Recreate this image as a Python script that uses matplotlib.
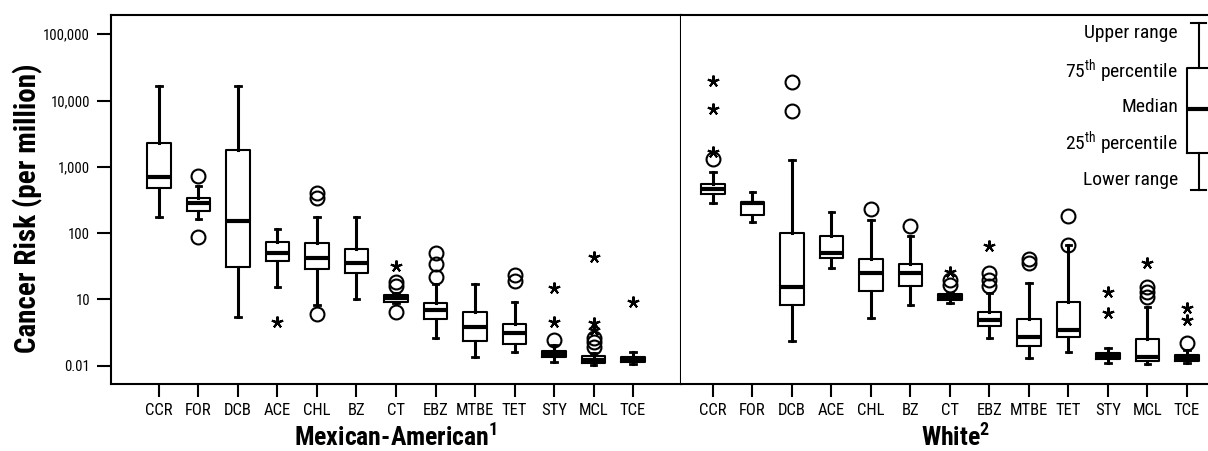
import matplotlib
matplotlib.use('Agg')
import matplotlib.pyplot as plt
from matplotlib.ticker import NullLocator

# Узкий шрифт вместо Arial Narrow
FONT = 'Roboto Condensed'
plt.rcParams['font.family'] = [FONT, 'Liberation Sans', 'DejaVu Sans']
plt.rcParams['mathtext.fontset'] = 'custom'
plt.rcParams['mathtext.rm'] = FONT
plt.rcParams['mathtext.bf'] = FONT + ':bold'

chemicals = ['CCR', 'FOR', 'DCB', 'ACE', 'CHL', 'BZ', 'CT', 'EBZ', 'MTBE', 'TET', 'STY', 'MCL', 'TCE']

y_ticks = [1, 10, 100, 1000, 10000, 100000]
y_tick_labels = ['0.01', '10', '100', '1,000', '10,000', '100,000']

# Mexican-American
ma_whislo = [177, 163, 5.4, 15.5, 8.2, 10.2, 8.7, 2.6, 1.34, 1.6, 1.15, 1.02, 1.06]
ma_q1 = [475, 215, 30.5, 38, 28.5, 24.8, 9.2, 5.0, 2.4, 2.1, 1.34, 1.09, 1.14]
ma_med = [710, 282, 154, 50, 42, 35.5, 10.4, 6.9, 3.9, 3.08, 1.49, 1.22, 1.25]
ma_q3 = [2300, 334, 1790, 73, 71, 57, 11.6, 8.9, 6.4, 4.2, 1.67, 1.40, 1.37]
ma_whishi = [16600, 515, 16600, 114, 173, 173, 12.5, 16.9, 16.9, 9.2, 2.05, 1.54, 1.63]
ma_circles = [[], [735, 87], [], [], [405, 334, 6.0], [], [18.5, 16.0, 6.5],
              [51, 34, 22], [], [23.3, 19.2], [2.44], [1.93, 2.3, 2.6], []]
ma_stars = [[], [], [], [4.6], [], [], [31.9], [], [], [], [4.6, 15.0], [3.45, 4.37, 44], [9.2]]

# White
wh_whislo = [282, 145, 2.4, 29.5, 5.3, 8.1, 8.9, 2.6, 1.32, 1.63, 1.11, 1.05, 1.11]
wh_q1 = [390, 187, 8.2, 41.7, 13.5, 15.9, 9.8, 4.0, 1.98, 2.68, 1.25, 1.19, 1.19]
wh_med = [465, 282, 15.2, 50.5, 25.3, 24.7, 10.7, 4.9, 2.74, 3.45, 1.40, 1.37, 1.32]
wh_q3 = [550, 298, 99, 90, 40.7, 33.9, 11.9, 6.4, 5.06, 9.2, 1.54, 2.53, 1.45]
wh_whishi = [846, 415, 1260, 206, 158, 90.3, 12.5, 12.4, 17.9, 66, 1.83, 7.8, 1.72]
wh_circles = [[1300], [], [19100, 7060], [], [230], [128], [16.5, 19.6],
              [24.8, 19.6, 16.2], [40.7, 35], [181, 66], [], [15.2, 13.1, 11.0], [2.18]]
wh_stars = [[1700, 7430, 19600], [], [], [], [], [], [26.1], [64], [], [], [13.1, 6.2], [35], [7.4, 4.9]]

# Ключ (схема бокса)
key_box = dict(whislo=447, q1=1630, med=7450, q3=30700, whishi=149000)
key_labels = ['Upper range', r'75$^{\mathrm{th}}$ percentile', 'Median',
              r'25$^{\mathrm{th}}$ percentile', 'Lower range']

W, H = 1208, 451
fig = plt.figure(figsize=(W / 100, H / 100), dpi=100)
bottom = (H - 384) / H
height = (384 - 15.3) / H
ax1 = fig.add_axes([111 / W, bottom, (681 - 111) / W, height])
ax2 = fig.add_axes([681 / W, bottom, (1230 - 681) / W, height])

box_kw = dict(widths=0.6, showfliers=False,
              boxprops=dict(color='black', linewidth=1.5),
              medianprops=dict(color='black', linewidth=3),
              whiskerprops=dict(color='black', linewidth=2.2),
              capprops=dict(color='black', linewidth=2),
              capwidths=0.14)


def draw(ax, whislo, q1, med, q3, whishi, circles, stars):
    stats = []
    for i in range(len(chemicals)):
        stats.append(dict(whislo=whislo[i], q1=q1[i], med=med[i], q3=q3[i], whishi=whishi[i]))
    pos = list(range(len(chemicals)))
    ax.bxp(stats, positions=pos, **box_kw)
    for i in pos:
        if circles[i]:
            ax.plot([i] * len(circles[i]), circles[i], 'o', mfc='none', mec='black', ms=10, mew=1.5)
        if stars[i]:
            ax.plot([i] * len(stars[i]), stars[i], marker=(5, 2, 0), ls='none', color='black', ms=8.5, mew=1.5)
    ax.set_yscale('log')
    ax.set_ylim(0.53, 1.93e5)
    ax.set_xticks(pos)
    ax.set_xticklabels(chemicals, fontsize=12)
    ax.tick_params(axis='x', length=9.5, width=1.5, pad=4.5)
    for s in ax.spines.values():
        s.set_linewidth(1.5)


draw(ax1, ma_whislo, ma_q1, ma_med, ma_q3, ma_whishi, ma_circles, ma_stars)
draw(ax2, wh_whislo, wh_q1, wh_med, wh_q3, wh_whishi, wh_circles, wh_stars)

ax1.set_xlim(-1.215, 13.215)
ax2.set_xlim(-0.81, 13.09)

ax1.set_yticks(y_ticks)
ax1.set_yticklabels(y_tick_labels, fontsize=10.5)
ax1.yaxis.set_minor_locator(NullLocator())
ax1.tick_params(axis='y', length=10, width=1.5, pad=5)
ax1.set_ylabel('Cancer Risk (per million)', fontsize=21, fontweight='bold')
ax1.yaxis.set_label_coords(-0.119, 0.476)

ax2.yaxis.set_major_locator(NullLocator())
ax2.yaxis.set_minor_locator(NullLocator())
ax2.spines['left'].set_visible(False)

ax1.set_xlabel(r'Mexican-American$^{\mathbf{1}}$', fontsize=18.5, fontweight='bold')
ax2.set_xlabel(r'White$^{\mathbf{2}}$', fontsize=18.5, fontweight='bold')
ax1.xaxis.set_label_coords(0.5, -0.105)
ax2.xaxis.set_label_coords(0.5, -0.105)

# ключ в правом верхнем углу
ax2.bxp([key_box], positions=[12.3], showfliers=False, widths=0.6,
        boxprops=dict(color='black', linewidth=1.5),
        medianprops=dict(color='black', linewidth=3),
        whiskerprops=dict(color='black', linewidth=1.5),
        capprops=dict(color='black', linewidth=1.5),
        capwidths=0.38, manage_ticks=False)
label_y = [33, 71, 107, 143, 180]
for txt, yy in zip(key_labels, label_y):
    fig.text(1178 / W, 1 - yy / H, txt, ha='right', va='center', fontsize=14)

fig.savefig('out.png', dpi=100)
